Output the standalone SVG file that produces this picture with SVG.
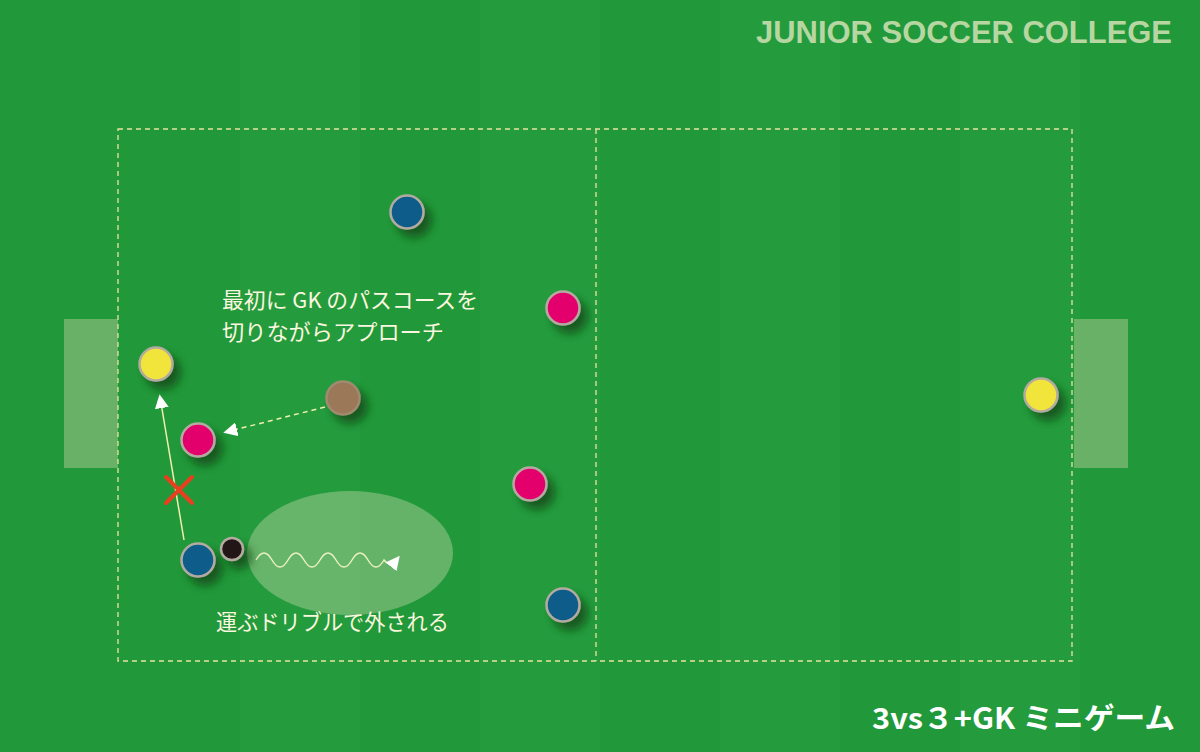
<svg xmlns="http://www.w3.org/2000/svg" width="1200" height="752" viewBox="0 0 1200 752">
<defs>
<filter id="sh" x="-80%" y="-80%" width="260%" height="260%">
<feDropShadow dx="7" dy="8" stdDeviation="5" flood-color="#0a3d14" flood-opacity="0.7"/>
</filter>
<marker id="ah2" viewBox="0 0 10 10" refX="8" refY="5" markerWidth="14" markerHeight="14" orient="auto" markerUnits="userSpaceOnUse">
<path d="M0,0 L10,5 L0,10 Z" fill="#ffffff"/>
</marker>
<style>
.p{stroke:#b3aaa0;stroke-width:2.5;filter:url(#sh)}
.blue{fill:#0b5c8a}.pink{fill:#e4006c}.yel{fill:#f1e43a}.brn{fill:#9a7858}.blk{fill:#231815}
.fld{fill:none;stroke:#e8e3a0;stroke-width:1.3;stroke-dasharray:5 4}
.goal{fill:#8fbf80;opacity:0.65}
.t{font-family:"Noto Sans CJK JP","Noto Sans",sans-serif;font-size:21.5px;fill:#fbf6df}
</style>
</defs>
<rect x="0" y="0" width="1200" height="752" fill="#21993a"/>
<g opacity="0.35">
<rect x="240" y="0" width="120" height="752" fill="#2aa246"/>
<rect x="480" y="0" width="120" height="752" fill="#2aa246"/>
<rect x="720" y="0" width="120" height="752" fill="#2aa246"/>
<rect x="960" y="0" width="120" height="752" fill="#2aa246"/>
</g>
<g id="field">
<rect class="goal" x="64" y="319" width="54" height="149"/>
<rect class="goal" x="1074" y="319" width="54" height="149"/>
<rect class="fld" x="118" y="129" width="954" height="532"/>
<line class="fld" x1="596" y1="129" x2="596" y2="661"/>
</g>
<ellipse id="area" cx="350" cy="553" rx="103" ry="62" fill="#9fc990" opacity="0.55"/>
<g id="connectors" fill="none">
<line x1="184" y1="540" x2="160" y2="397" stroke="#f2efb0" stroke-width="1.5" marker-end="url(#ah2)"/>
<line x1="325" y1="407" x2="226" y2="432" stroke="#f2efb0" stroke-width="1.5" stroke-dasharray="5 4" marker-end="url(#ah2)"/>
<path d="M256,560 q8,-14 16,0 t16,0 t16,0 t16,0 t16,0 t16,0 t16,0 t16,0 q6,8 14,-2" stroke="#e8f0c0" stroke-width="1.5" marker-end="url(#ah2)"/>
</g>
<g id="cross" stroke="#e8401e" stroke-width="4" stroke-linecap="round">
<line x1="166" y1="477" x2="192" y2="503"/>
<line x1="192" y1="477" x2="166" y2="503"/>
</g>
<g id="p1"><circle class="p blue" cx="407" cy="212" r="16.5"/></g>
<g id="p2"><circle class="p pink" cx="563" cy="308" r="16.5"/></g>
<g id="p3"><circle class="p yel" cx="156" cy="364" r="16.5"/></g>
<g id="p4"><circle class="p brn" cx="343" cy="398" r="16.5" style="stroke:#a08a70"/></g>
<g id="p5"><circle class="p pink" cx="198" cy="440" r="16.5"/></g>
<g id="p6"><circle class="p pink" cx="530" cy="484" r="16.5"/></g>
<g id="p7"><circle class="p blue" cx="198" cy="560" r="16.5"/></g>
<g id="ball"><circle class="p blk" cx="232" cy="549" r="11"/></g>
<g id="p8"><circle class="p blue" cx="563" cy="605" r="16.5"/></g>
<g id="p9"><circle class="p yel" cx="1041" cy="395" r="16.5"/></g>
<g id="labels">
<text class="t" x="222" y="308" textLength="256" lengthAdjust="spacingAndGlyphs">最初に GK のパスコースを</text>
<text class="t" x="222" y="340" textLength="222" lengthAdjust="spacingAndGlyphs">切りながらアプローチ</text>
<text class="t" x="216" y="630" textLength="233" lengthAdjust="spacingAndGlyphs">運ぶドリブルで外される</text>
<text x="756" y="43" font-family="Liberation Sans,Arial,sans-serif" font-weight="bold" font-size="31" fill="#b7d6a2" textLength="416" lengthAdjust="spacingAndGlyphs">JUNIOR SOCCER COLLEGE</text>
<text x="872" y="729" font-family="'Noto Sans CJK JP','Noto Sans',sans-serif" font-weight="bold" font-size="29" fill="#ffffff" textLength="303" lengthAdjust="spacingAndGlyphs">3vs３+GK ミニゲーム</text>
</g>
</svg>
